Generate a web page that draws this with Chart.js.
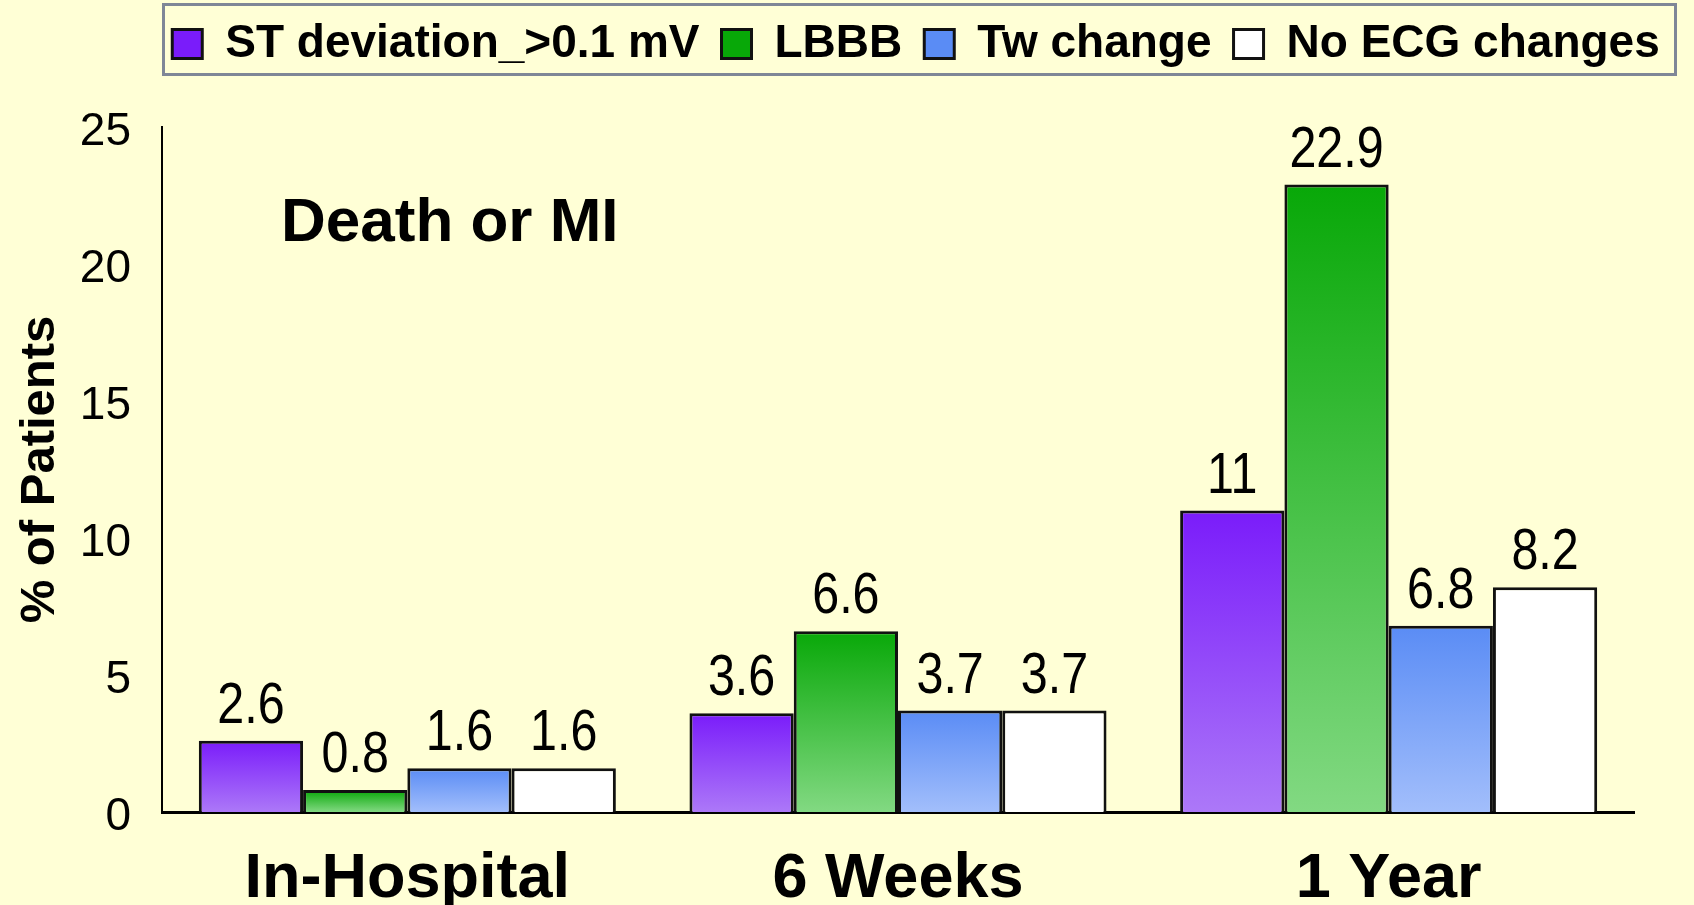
<!DOCTYPE html>
<html><head><meta charset="utf-8">
<script src="https://cdn.jsdelivr.net/npm/chart.js@4.4.1/dist/chart.umd.min.js"></script>
<style>html,body{margin:0;padding:0;background:#FFFFD6;overflow:hidden}canvas{display:block}</style>
</head><body>
<canvas id="c" width="1694" height="905"></canvas>
<script>
// ---- data ----
const categories = ['In-Hospital', '6 Weeks', '1 Year'];
const seriesNames = ['ST deviation_>0.1 mV', 'LBBB', 'Tw change', 'No ECG changes'];
const stDeviation = [2.6, 3.6, 11];
const lbbb = [0.8, 6.6, 22.9];
const twChange = [1.6, 3.7, 6.8];
const noEcgChanges = [1.6, 3.7, 8.2];
const yTicks = [0, 5, 10, 15, 20, 25];
const panelLabel = 'Death or MI';
const yTitle = '% of Patients';

// ---- styles ----
const FAM = '"Liberation Sans", Arial, Helvetica, sans-serif';
const seriesColors = [
  ['#7A1CFA', '#AC78F8'],
  ['#08A808', '#82D982'],
  ['#5A8CF5', '#A2BEFB'],
  ['#FFFFFF', '#FFFFFF']
];

function grad(top, bottom) {
  return (c) => {
    const chart = c.chart;
    if (!chart.chartArea) return top;
    const g2 = chart.ctx;
    let g;
    if (c.type === 'data') {
      const y = chart.scales.y;
      g = g2.createLinearGradient(0, y.getPixelForValue(c.raw), 0, y.getPixelForValue(0));
    } else {
      const t = chart.legend ? chart.legend.top : 0;
      g = g2.createLinearGradient(0, t + 26, 0, t + 56);
    }
    g.addColorStop(0, top);
    g.addColorStop(1, bottom);
    return g;
  };
}

const seriesData = [stDeviation, lbbb, twChange, noEcgChanges];
const datasets = seriesNames.map((name, i) => ({
  label: name,
  data: seriesData[i],
  backgroundColor: grad(seriesColors[i][0], seriesColors[i][1]),
  borderColor: '#111111',
  borderWidth: 3,
  categoryPercentage: 0.85,
  barPercentage: 1.0
}));

const FRAME = { left: 162, right: 1677 };

const legendPlace = {
  id: 'legendPlace',
  afterLayout(chart) {
    const lg = chart.legend;
    if (!lg) return;
    lg.left = 136; lg.right = 1696; lg.width = lg.right - lg.left;
    const h = lg.height;
    lg.top = -1; lg.bottom = lg.top + h;
  },
  beforeDraw(chart) {
    const lg = chart.legend;
    if (!lg) return;
    const c = chart.ctx;
    c.save();
    c.strokeStyle = '#7F8797';
    c.lineWidth = 3;
    c.strokeRect(FRAME.left + 1.5, lg.top + 5.5, FRAME.right - FRAME.left - 3, 70);
    c.restore();
  }
};

const valueLabels = {
  id: 'valueLabels',
  afterDatasetsDraw(chart) {
    const c = chart.ctx;
    chart.data.datasets.forEach((ds, i) => {
      const meta = chart.getDatasetMeta(i);
      meta.data.forEach((bar, j) => {
        c.save();
        c.translate(bar.x, bar.y - 18);
        c.scale(0.85, 1);
        c.font = '57px ' + FAM;
        c.fillStyle = '#000';
        c.textAlign = 'center';
        c.textBaseline = 'alphabetic';
        c.fillText(String(ds.data[j]), 0, 0);
        c.restore();
      });
    });
  },
  afterDraw(chart) {
    const a = chart.chartArea;
    const c = chart.ctx;
    c.save();
    c.font = 'bold 62px ' + FAM;
    c.fillStyle = '#000';
    c.textAlign = 'left';
    c.textBaseline = 'alphabetic';
    c.fillText(panelLabel, a.left + 119, a.top + 114);
    c.restore();
  }
};

new Chart(document.getElementById('c'), {
  type: 'bar',
  data: { labels: categories, datasets },
  options: {
    responsive: false,
    animation: false,
    events: [],
    layout: { padding: { top: 49, right: 60, bottom: 0, left: 0 } },
    plugins: {
      tooltip: { enabled: false },
      legend: {
        display: true,
        position: 'top',
        labels: {
          color: '#000',
          font: { family: FAM, size: 46, weight: 'bold' },
          boxWidth: 30,
          boxHeight: 29,
          padding: 22
        }
      }
    },
    scales: {
      x: {
        grid: { display: false, drawTicks: false },
        border: { display: true, color: '#000', width: 3 },
        ticks: { color: '#000', font: { family: FAM, size: 63, weight: 'bold' }, padding: 30, maxRotation: 0, autoSkip: false },
        afterFit: s => { s.height = 93; }
      },
      y: {
        min: 0, max: 25,
        grid: { display: false, drawTicks: false },
        border: { display: true, color: '#000', width: 2 },
        ticks: { color: '#000', font: { family: FAM, size: 46 }, padding: 31, labelOffset: 5 },
        afterBuildTicks: s => { s.ticks = yTicks.map(v => ({ value: v })); },
        title: { display: true, text: yTitle, color: '#000', font: { family: FAM, size: 49, weight: 'bold' }, padding: { top: 11, bottom: 0 } },
        afterFit: s => { s.width = 162; }
      }
    }
  },
  plugins: [legendPlace, valueLabels]
});
</script>
</body></html>
